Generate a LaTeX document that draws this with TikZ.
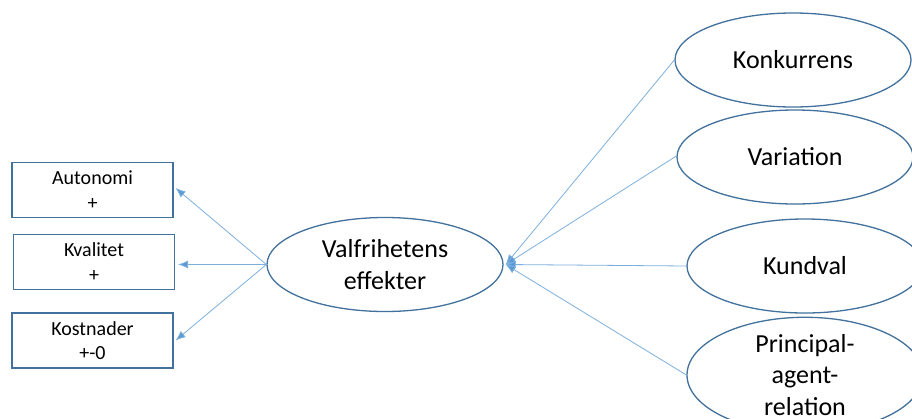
\documentclass[tikz,border=0pt]{standalone}
\usepackage{fontspec}
\setmainfont{Carlito}
\usetikzlibrary{shapes.geometric,arrows.meta}
\definecolor{edgeblue}{RGB}{65,113,156}
\definecolor{linkblue}{RGB}{91,155,213}
\tikzset{
  oval/.style={ellipse, draw=edgeblue, line width=1.3pt, fill=white, minimum width=236pt, minimum height=94pt, inner sep=0pt, align=center, font=\fontsize{26}{31.7}\selectfont},
  box/.style={rectangle, draw=edgeblue, line width=1.1pt, fill=white, minimum width=161pt, minimum height=55pt, inner sep=0pt, align=center, font=\fontsize{20}{24.4}\selectfont},
  link/.style={draw=linkblue!80, line width=0.8pt},
  arr/.style={link, -{Latex[length=10pt,width=8pt,fill=linkblue]}}
}
\begin{document}
\begin{tikzpicture}[x=1pt,y=-1pt]
\useasboundingbox (0,0) rectangle (912,418);
\node[box] (aut) at (92.5,190) {Autonomi\\+};
\node[box] (kva) at (94,262) {Kvalitet\\+};
\node[box] (kos) at (92.5,340.5) {Kostnader\\+-0};
\node[oval] (val) at (385,264.5) {Valfrihetens\\effekter};
\node[oval] (kon) at (793,60) {Konkurrens};
\node[oval] (var) at (795,157) {Variation};
\node[oval] (kun) at (805,266) {Kundval};
\node[oval] (pri) at (805,375) {Principal-\\agent-\\relation};
\coordinate (tipr) at ([xshift=2pt]val.east);
\draw[arr] (val.west) -- ([xshift=2pt,yshift=2pt]aut.east);
\draw[arr] (val.west) -- ([xshift=3pt]kva.east |- val.west);
\draw[arr] (val.west) -- ([xshift=2pt]kos.east);
\draw[arr] (kon.west) -- (tipr);
\draw[arr] ([yshift=1pt]var.west) -- (tipr);
\draw[arr] (kun.west) -- (tipr);
\draw[arr] (pri.west) -- (tipr);
\end{tikzpicture}
\end{document}
